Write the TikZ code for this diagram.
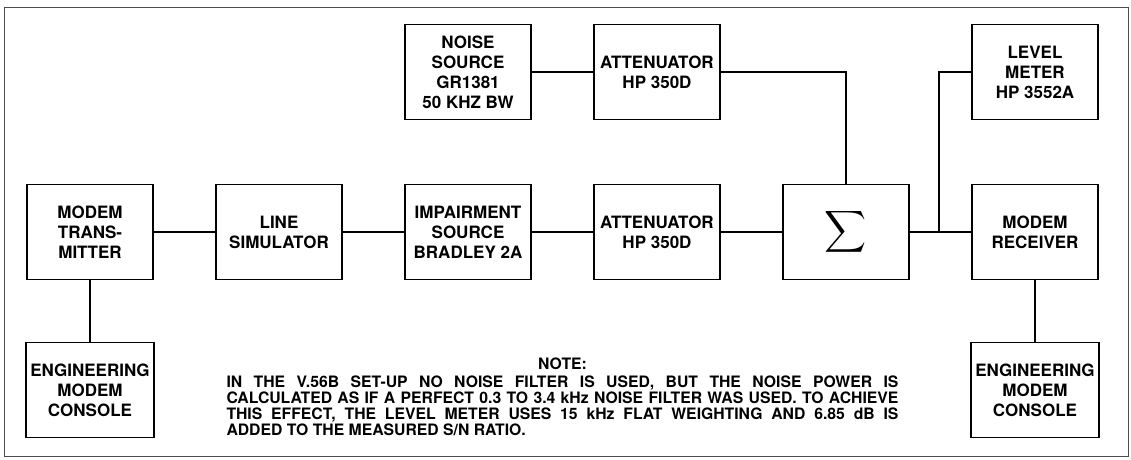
\documentclass[tikz,border=0pt]{standalone}
\usepackage{fontspec}
\usepackage{amsmath}
\setmainfont{TeX Gyre Heros}
\usepackage{tikz}
\usetikzlibrary{positioning, calc}
\tikzstyle{block} = [rectangle, minimum width=3.15cm, minimum height=2.375cm, text centered, align=center, draw=black, line width=1.4pt, font=\fontsize{12.1}{14.2}\selectfont\bfseries]
\tikzstyle{wire} = [line width=1.2pt]
\tikzstyle{frame} = [line width=0.7pt, draw=black!70]
\tikzstyle{notefont} = [font=\fontsize{11.2}{11.4}\selectfont\bfseries]

\begin{document}
\begin{tikzpicture}[node distance=4.725cm]

\useasboundingbox (-2.25,5.8) rectangle (26.025,-5.7);
\draw [frame] (-2.15,5.6) rectangle (25.95,-5.6);

\node (tx) [block] {MODEM\\TRANS-\\MITTER};
\node (sim) [block, right of=tx] {LINE\\SIMULATOR};
\node (imp) [block, right of=sim] {IMPAIRMENT\\SOURCE\\BRADLEY 2A};
\node (att2) [block, right of=imp] {ATTENUATOR\\HP 350D};
\node (sum) [block, right of=att2] {{\fontsize{21.5}{24}\selectfont$\displaystyle\sum$}};
\node (rx) [block, right of=sum] {MODEM\\RECEIVER};
\node (noise) [block, above of=imp, yshift=-0.725cm] {NOISE\\SOURCE\\GR1381\\50 KHZ BW};
\node (att1) [block, above of=att2, yshift=-0.725cm] {ATTENUATOR\\HP 350D};
\node (lvl) [block, above of=rx, yshift=-0.725cm] {LEVEL\\METER\\HP 3552A};
\node (con1) [block, below of=tx, yshift=0.775cm] {ENGINEERING\\MODEM\\CONSOLE};
\node (con2) [block, below of=rx, yshift=0.775cm] {ENGINEERING\\MODEM\\CONSOLE};

\node (note) [notefont] at ($(imp)!0.5!(att2)+(0,-3.3)$) {NOTE:};
\node (notetext) [notefont, below of=note, node distance=1.04cm, text width=16.8cm, align=justify] {IN THE V.56B SET-UP NO NOISE FILTER IS USED, BUT THE NOISE POWER IS\linebreak CALCULATED AS IF A PERFECT 0.3 TO 3.4 kHz NOISE FILTER WAS USED. TO ACHIEVE\linebreak THIS EFFECT, THE LEVEL METER USES 15 kHz FLAT WEIGHTING AND 6.85 dB IS\linebreak ADDED TO THE MEASURED S/N RATIO.};

\coordinate (tap) at ($(sum.east)!0.48!(rx.west)$);

\draw [wire] (tx) -- (sim);
\draw [wire] (sim) -- (imp);
\draw [wire] (imp) -- (att2);
\draw [wire] (att2) -- (sum);
\draw [wire] (sum) -- (rx);
\draw [wire] (noise) -- (att1);
\draw [wire] (att1) -| (sum);
\draw [wire] (lvl) -| (tap);
\draw [wire] (tx) -- (con1);
\draw [wire] (rx) -- (con2);

\end{tikzpicture}
\end{document}
